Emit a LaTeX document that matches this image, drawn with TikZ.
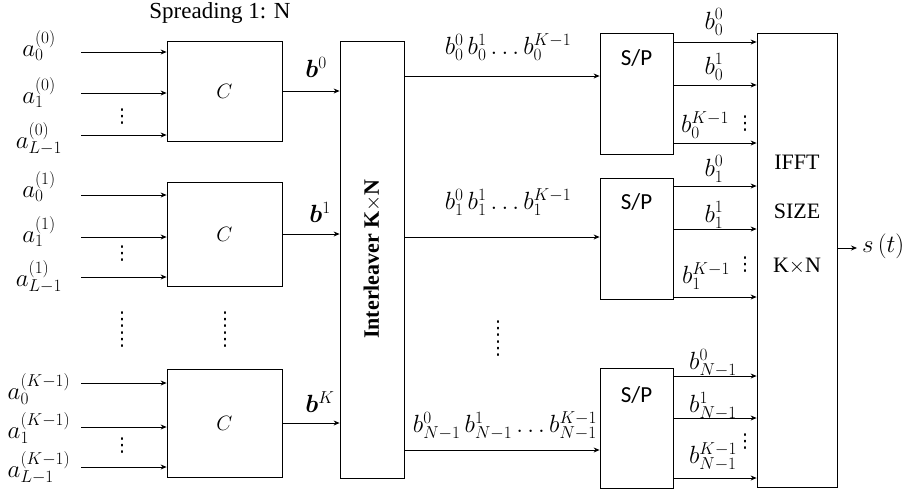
\documentclass[tikz,border=0pt]{standalone}
\usepackage{fontspec}
\usepackage{bm}
\setmainfont{Liberation Serif}
\newfontfamily\spfont{Carlito}
\newfontfamily\dvfont{DejaVu Sans}
\usetikzlibrary{arrows.meta}
\begin{document}
\begin{tikzpicture}[x=1pt,y=-1pt,
  box/.style={draw,line width=0.8pt,inner sep=0pt},
  arr/.style={line width=0.8pt,-{Stealth[length=6pt,width=5pt]}},
  lab/.style={inner sep=0pt,font=\fontsize{25}{27}\selectfont},
  mlab/.style={inner sep=0pt,font=\fontsize{23}{25}\selectfont},
  rlab/.style={inner sep=0pt,font=\fontsize{23}{25}\selectfont},
  dts/.style={inner sep=0pt,font=\dvfont\fontsize{19}{21}\selectfont},
  tdts/.style={inner sep=0pt,align=center,font=\dvfont\fontsize{19}{20}\selectfont}]
\useasboundingbox (0,0) rectangle (907,493);
\node[inner sep=0pt,font=\fontsize{23}{25}\selectfont] (title) at (220,13) {Spreading 1: N};
% C boxes
\node[box,minimum width=115pt,minimum height=100pt,font=\fontsize{22}{24}\selectfont] (C1) at (224.5,91) {$C$};
\node[box,minimum width=115pt,minimum height=104pt,font=\fontsize{22}{24}\selectfont] (C2) at (224.5,234) {$C$};
\node[box,minimum width=115pt,minimum height=108pt,font=\fontsize{22}{24}\selectfont] (C3) at (224.5,423) {$C$};
% interleaver
\node[box,minimum width=64pt,minimum height=437pt] (IL) at (372,259.5) {};
\node[rotate=90,inner sep=0pt,font=\fontsize{22}{24}\selectfont\bfseries] (ILt) at (372,259) {Interleaver K$\times$N};
% S/P
\node[box,minimum width=73pt,minimum height=121pt] (SP1) at (636.5,93.5) {};
\node[box,minimum width=73pt,minimum height=121pt] (SP2) at (636.5,238.5) {};
\node[box,minimum width=73pt,minimum height=120pt] (SP3) at (636.5,428) {};
\node[inner sep=0pt,font=\spfont\fontsize{23}{25}\selectfont] (SP1t) at (636.5,58) {S/P};
\node[inner sep=0pt,font=\spfont\fontsize{23}{25}\selectfont] (SP2t) at (636.5,202) {S/P};
\node[inner sep=0pt,font=\spfont\fontsize{23}{25}\selectfont] (SP3t) at (636.5,395) {S/P};
% IFFT
\node[box,minimum width=80pt,minimum height=454pt] (FF) at (797,260) {};
\node[inner sep=0pt,font=\fontsize{22}{24}\selectfont] (FF1) at (797,162) {IFFT};
\node[inner sep=0pt,font=\fontsize{22}{24}\selectfont] (FF2) at (797,211) {SIZE};
\node[inner sep=0pt,font=\fontsize{22}{24}\selectfont] (FF3) at (797,266) {K$\times$N};
% inputs
\foreach \n/\y in {11/52,12/93,13/135,21/195,22/237,23/277,31/383,32/427,33/467}{
  \coordinate (i\n) at (81,\y);
}
\draw[arr] (i11) -- (i11 -| C1.west);
\draw[arr] (i12) -- (i12 -| C1.west);
\draw[arr] (i13) -- (i13 -| C1.west);
\draw[arr] (i21) -- (i21 -| C2.west);
\draw[arr] (i22) -- (i22 -| C2.west);
\draw[arr] (i23) -- (i23 -| C2.west);
\draw[arr] (i31) -- (i31 -| C3.west);
\draw[arr] (i32) -- (i32 -| C3.west);
\draw[arr] (i33) -- (i33 -| C3.west);
\node[lab] (a11) at (39,46) {$a_0^{(0)}$};
\node[lab] (a12) at (39,93) {$a_1^{(0)}$};
\node[lab] (a13) at (39,139) {$a_{L-1}^{(0)}$};
\node[lab] (a21) at (39,187) {$a_0^{(1)}$};
\node[lab] (a22) at (39,232) {$a_1^{(1)}$};
\node[lab] (a23) at (39,277) {$a_{L-1}^{(1)}$};
\node[lab] (a31) at (39,389) {$a_0^{(K-1)}$};
\node[lab] (a32) at (39,428) {$a_1^{(K-1)}$};
\node[lab] (a33) at (39,468) {$a_{L-1}^{(K-1)}$};
\node[dts] (d1) at (122,117) {⋮};
\node[dts] (d2) at (122,254) {⋮};
\node[dts] (d3) at (122,446) {⋮};
\node[tdts] (d4) at (122,330) {⋮\\⋮};
\node[tdts] (d6) at (225,330) {⋮\\⋮};
% C outputs
\draw[arr] (C1.east) -- (C1.east -| IL.west);
\draw[arr] (C2.east) -- (C2.east -| IL.west);
\draw[arr] (C3.east) -- (C3.east -| IL.west);
\node[lab] (b0) at (316,67) {$\bm{b}^0$};
\node[lab] (b1) at (320,212) {$\bm{b}^1$};
\node[lab] (bK) at (320,402) {$\bm{b}^K$};
% interleaver outputs
\coordinate (o1) at (IL.east |- 0,76);
\coordinate (o2) at (IL.east |- 0,237);
\coordinate (o3) at (IL.east |- 0,450);
\draw[arr] (o1) -- (o1 -| SP1.west);
\draw[arr] (o2) -- (o2 -| SP2.west);
\draw[arr] (o3) -- (o3 -| SP3.west);
\node[mlab] (m1) at (508,47) {$b_0^0\,b_0^1\ldots b_0^{K-1}$};
\node[mlab] (m2) at (508,202) {$b_1^0\,b_1^1\ldots b_1^{K-1}$};
\node[mlab] (m3) at (505,426) {$b_{N-1}^0\,b_{N-1}^1\ldots b_{N-1}^{K-1}$};
\node[tdts] (d8) at (498,339) {⋮\\⋮};
% S/P outputs
\foreach \s/\a/\b/\c in {1/42/85/143,2/186/229/297,3/376/418/478}{
  \coordinate (p\s a) at (SP\s.east |- 0,\a);
  \coordinate (p\s b) at (SP\s.east |- 0,\b);
  \coordinate (p\s c) at (SP\s.east |- 0,\c);
}
\draw[arr] (p1a) -- (p1a -| FF.west);
\draw[arr] (p1b) -- (p1b -| FF.west);
\draw[arr] (p1c) -- (p1c -| FF.west);
\draw[arr] (p2a) -- (p2a -| FF.west);
\draw[arr] (p2b) -- (p2b -| FF.west);
\draw[arr] (p2c) -- (p2c -| FF.west);
\draw[arr] (p3a) -- (p3a -| FF.west);
\draw[arr] (p3b) -- (p3b -| FF.west);
\draw[arr] (p3c) -- (p3c -| FF.west);
\node[rlab] (r11) at (714,22) {$b_0^0$};
\node[rlab] (r12) at (714,67) {$b_0^1$};
\node[rlab] (r13) at (705,125) {$b_0^{K-1}$};
\node[rlab] (r21) at (714,169) {$b_1^0$};
\node[rlab] (r22) at (714,215) {$b_1^1$};
\node[rlab] (r23) at (706,276) {$b_1^{K-1}$};
\node[rlab] (r31) at (713,363) {$b_{N-1}^0$};
\node[rlab] (r32) at (713,406) {$b_{N-1}^1$};
\node[rlab] (r33) at (713,457) {$b_{N-1}^{K-1}$};
\node[dts] (e1) at (745,124) {⋮};
\node[dts] (e2) at (745,265) {⋮};
\node[dts] (e3) at (745,442) {⋮};
% output
\coordinate (sout) at (FF.east |- 0,248);
\coordinate (send) at (857,248);
\draw[arr] (sout) -- (send);
\node[lab,anchor=west] (st) at (862,246) {$s\,(t)$};
\end{tikzpicture}
\end{document}
